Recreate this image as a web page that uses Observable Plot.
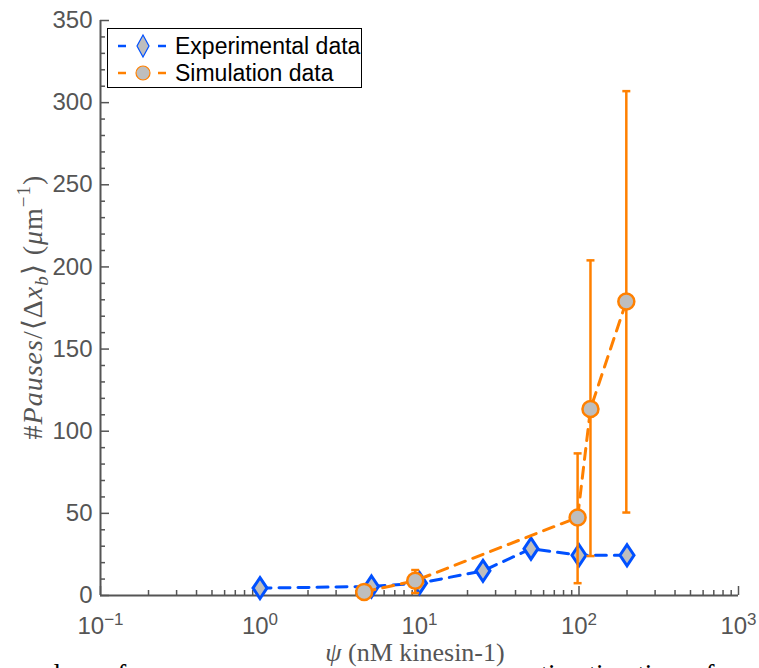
<!DOCTYPE html>
<html><head><meta charset="utf-8">
<script src="https://cdn.jsdelivr.net/npm/d3@7"></script>
<script src="https://cdn.jsdelivr.net/npm/@observablehq/plot@0.6"></script>
<style>
body{margin:0;background:#fff;}
#wrap{position:relative;width:759px;height:668px;overflow:hidden;background:#fff;}
#legend{position:absolute;left:107px;top:28px;width:253px;height:58px;border:1.5px solid #000;background:#fff;font-family:"Liberation Sans",Arial,sans-serif;font-size:23px;color:#000;}
#legend .row{position:absolute;left:0;height:26px;display:flex;align-items:center;}
#legend svg{display:block;}
.cap{position:absolute;font-family:"Liberation Serif",serif;font-size:27px;line-height:30px;color:#000;white-space:nowrap;}
</style></head><body><div id="wrap"></div>
<script>
// ---- data ----
const expX = [1, 5, 10, 25, 50, 100, 200];
const expY = [4.5, 5.5, 7.5, 15, 28.5, 24.5, 24.5];
const simX = [4.5, 9.4, 98, 118, 198];
const simY = [2.2, 9, 47.5, 113.5, 179];
const simLo = [1.2, 1.5, 7.5, 24, 50.5];
const simHi = [3.2, 15.5, 86.5, 204, 307];
const xMajor = [0.1, 1, 10, 100, 1000];
const yMajor = [0, 50, 100, 150, 200, 250, 300, 350];
const seriesNames = ["Experimental data", "Simulation data"];

const blue = "#0050ff", orange = "#ff8000", grayFill = "#bebebe", axisGray = "#555";

const xMinor = [];
for (const d of [0.1, 1, 10, 100]) for (let k = 2; k <= 9; k++) xMinor.push(d * k);
const yMinor = d3.range(0, 351, 10).filter(v => v % 50 !== 0);

const exp = expX.map((x, i) => ({x, y: expY[i]}));
const sim = simX.map((x, i) => ({x, y: simY[i], lo: simLo[i], hi: simHi[i]}));

const diamondSym = {draw(ctx) { ctx.moveTo(0, -10.5); ctx.lineTo(7, 0); ctx.lineTo(0, 10.5); ctx.lineTo(-7, 0); ctx.closePath(); }};
const capSym = {draw(ctx) { ctx.moveTo(-4, 0); ctx.lineTo(4, 0); }};

const chart = Plot.plot({
  width: 759, height: 668,
  marginLeft: 100, marginRight: 21, marginTop: 20, marginBottom: 73,
  style: {background: "#fff", color: axisGray, fontFamily: "Liberation Sans, Arial, sans-serif", overflow: "visible"},
  x: {type: "log", domain: [0.1, 1000]},
  y: {domain: [0, 350]},
  marks: [
    // axes (ticks pointing inward)
    Plot.axisY({ticks: yMajor, tickSize: 9, dx: 9, tickFormat: () => "", label: null, stroke: axisGray, strokeWidth: 1.5}),
    Plot.axisY({ticks: yMinor, tickSize: 5, dx: 5, tickFormat: () => "", label: null, stroke: axisGray, strokeWidth: 1.5}),
    Plot.axisY({ticks: yMajor, tickSize: 0, tickPadding: 8, fontSize: 24, label: null, fill: axisGray}),
    Plot.axisX({ticks: xMajor, tickSize: 9, dy: -9, tickFormat: () => "", label: null, stroke: axisGray, strokeWidth: 1.5}),
    Plot.axisX({ticks: xMinor, tickSize: 5, dy: -5, tickFormat: () => "", label: null, stroke: axisGray, strokeWidth: 1.5}),
    Plot.axisX({ticks: xMajor, tickSize: 0, tickPadding: 21, fontSize: 24, label: null, fill: axisGray,
      tickFormat: d => String(Math.round(Math.log10(d)))}),
    Plot.ruleY([0], {stroke: axisGray, strokeWidth: 2}),
    Plot.ruleX([0.1], {stroke: axisGray, strokeWidth: 2}),
    // experimental
    Plot.line(exp, {x: "x", y: "y", stroke: blue, strokeWidth: 3, strokeDasharray: "11,8"}),
    Plot.dot(exp, {x: "x", y: "y", symbol: diamondSym, fill: grayFill, stroke: blue, strokeWidth: 3}),
    // simulation
    Plot.line(sim, {x: "x", y: "y", stroke: orange, strokeWidth: 3, strokeDasharray: "11,8"}),
    Plot.ruleX(sim, {x: "x", y1: "lo", y2: "hi", stroke: orange, strokeWidth: 2.5}),
    Plot.dot(sim, {x: "x", y: "lo", symbol: capSym, stroke: orange, strokeWidth: 2.5}),
    Plot.dot(sim, {x: "x", y: "hi", symbol: capSym, stroke: orange, strokeWidth: 2.5}),
    Plot.dot(sim, {x: "x", y: "y", r: 8, fill: grayFill, stroke: orange, strokeWidth: 2.5})
  ]
});

const wrap = document.getElementById("wrap");
wrap.appendChild(chart);
const svg = d3.select(chart);

// superscript exponents for x tick labels
svg.selectAll("g[aria-label='x-axis tick label'] text").each(function() {
  const t = d3.select(this);
  const raw = t.text();
  if (raw === "") return;
  const e = raw.replace("-", "\u2212");
  t.text("10");
  t.append("tspan").attr("dy", "-0.5em").attr("font-size", "17px").text(e);
});

// y axis label
const yl = svg.append("text")
  .attr("transform", "translate(42,307) rotate(-90)")
  .attr("text-anchor", "middle")
  .attr("font-family", "Liberation Serif, serif")
  .attr("font-size", 28)
  .attr("letter-spacing", 1)
  .attr("fill", axisGray);
yl.append("tspan").text("#");
yl.append("tspan").attr("font-style", "italic").text("Pauses");
yl.append("tspan").text("/\u27E8\u0394");
yl.append("tspan").attr("font-style", "italic").text("x");
yl.append("tspan").attr("font-style", "italic").attr("font-size", 19).attr("dy", 6).text("b");
yl.append("tspan").attr("dy", -6).text("\u27E9 (");
yl.append("tspan").attr("font-style", "italic").text("\u03BC");
yl.append("tspan").text("m");
yl.append("tspan").attr("font-size", 19).attr("dy", -12).text("\u22121");
yl.append("tspan").attr("dy", 12).text(")");

// x axis label
const xl = svg.append("text")
  .attr("x", 415).attr("y", 661)
  .attr("text-anchor", "middle")
  .attr("font-family", "Liberation Serif, serif")
  .attr("font-size", 26)
  .attr("fill", axisGray);
xl.append("tspan").attr("font-style", "italic").text("\u03C8");
xl.append("tspan").text(" (nM kinesin-1)");

// legend
const legend = document.createElement("div");
legend.id = "legend";
const mk = (i) => {
  const row = document.createElement("div");
  row.className = "row";
  row.style.top = (i === 0 ? 4 : 31) + "px";
  const col = i === 0 ? blue : orange;
  const marker = i === 0
    ? `<path d="M35,2 L41,13 L35,24 L29,13 Z" fill="${grayFill}" stroke="${col}" stroke-width="1.2"/>`
    : `<circle cx="35" cy="13" r="7" fill="${grayFill}" stroke="${col}" stroke-width="1.2"/>`;
  row.innerHTML = `<svg width="66" height="26"><line x1="10" x2="18" y1="13" y2="13" stroke="${col}" stroke-width="2.5"/><line x1="50" x2="58" y1="13" y2="13" stroke="${col}" stroke-width="2.5"/>${marker}</svg><span style="margin-left:1px">${seriesNames[i]}</span>`;
  return row;
};
legend.appendChild(mk(0));
legend.appendChild(mk(1));
wrap.appendChild(legend);

// clipped caption text from the page below
const c1 = document.createElement("div");
c1.className = "cap"; c1.style.left = "28px"; c1.style.top = "659px";
c1.textContent = "values of";
wrap.appendChild(c1);
const c2 = document.createElement("div");
c2.className = "cap"; c2.style.left = "518px"; c2.style.top = "659px";
c2.textContent = "estimation time of";
wrap.appendChild(c2);
</script></body></html>
